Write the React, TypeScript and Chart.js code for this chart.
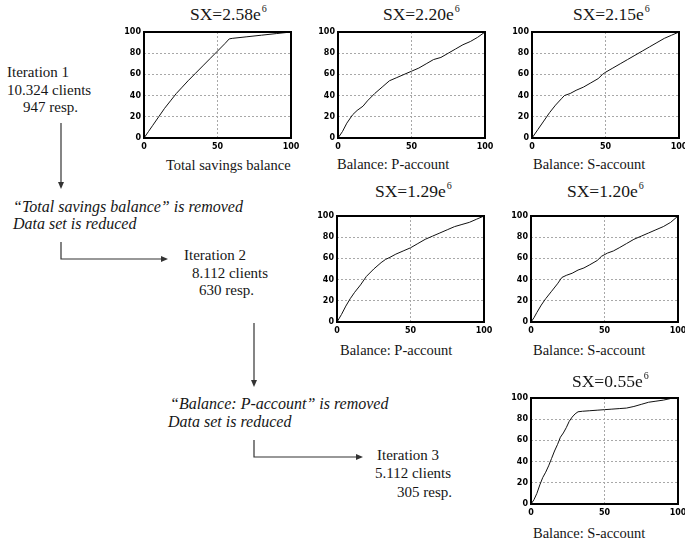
import React, { useEffect, useRef } from "react";
import { Chart, registerables } from "chart.js";

Chart.register(...registerables);

// ---- Data ----
const TOTAL_X = [0, 3, 6, 10, 14, 18, 22, 26, 30, 35, 40, 45, 50, 55, 58, 60, 70, 80, 90, 100];
const TOTAL_Y = [0, 6, 12, 20, 28, 35, 42, 48, 54, 61, 68, 75, 82, 89, 93.5, 94, 95.5, 97, 98.5, 100];

const P1_X = [0, 3, 6, 10, 13, 17, 20, 25, 30, 35, 40, 45, 50, 55, 60, 65, 70, 75, 80, 85, 90, 95, 100];
const P1_Y = [0, 6, 14, 22, 26, 30, 35, 42, 48, 54, 57, 60, 63, 66, 70, 74, 76, 80, 84, 88, 91, 95, 100];

const S1_X = [0, 4, 8, 12, 16, 20, 22, 26, 30, 35, 40, 45, 48, 50, 55, 60, 65, 70, 75, 80, 85, 90, 95, 100];
const S1_Y = [0, 8, 16, 24, 31, 37, 40, 42, 45, 48, 52, 56, 60, 62, 66, 70, 74, 78, 82, 86, 90, 94, 97, 100];

const P2_X = [0, 3, 6, 9, 12, 16, 20, 25, 30, 33, 36, 40, 45, 50, 55, 60, 65, 70, 75, 80, 85, 90, 95, 100];
const P2_Y = [0, 7, 15, 22, 28, 35, 43, 50, 56, 59, 61, 64, 67, 70, 74, 78, 81, 84, 87, 90, 92, 94, 97, 100];

const S2_X = [0, 2, 4, 7, 10, 14, 18, 21, 24, 28, 32, 36, 40, 45, 48, 52, 56, 60, 65, 70, 75, 80, 85, 90, 95, 100];
const S2_Y = [0, 4, 9, 16, 22, 29, 36, 42, 44, 46, 49, 51, 54, 58, 62, 65, 67, 70, 74, 78, 81, 84, 87, 90, 94, 100];

const S3_X = [0, 2, 4, 6, 8, 10, 12, 14, 16, 18, 20, 22, 24, 26, 28, 30, 32, 35, 40, 45, 50, 55, 60, 65, 70, 75, 80, 85, 90, 95, 100];
const S3_Y = [0, 4, 10, 18, 25, 30, 36, 43, 50, 56, 63, 67, 72, 78, 82, 85, 87, 87.5, 88, 88.5, 89, 89.5, 90, 90.5, 92, 94, 96, 97, 98, 99.5, 99.5];

const X_TICK_STEP = 50;
const Y_TICK_STEP = 20;

const TITLES = ["2.58", "2.20", "2.15", "1.29", "1.20", "0.55"];
const AXIS_LABELS = [
  "Total savings balance",
  "Balance: P-account",
  "Balance: S-account",
  "Balance: P-account",
  "Balance: S-account",
  "Balance: S-account",
];

// ---- Layout ----
const PW = 147;
const PH = 106;
const YAX = 30;
const PAD_TOP = 8;
const PAD_RIGHT = 14;
const XAX = 16;

type Panel = {
  left: number;
  top: number;
  xs: number[];
  ys: number[];
  title: string;
  titleLeft: number;
  titleCy: number;
  label: string;
  labelLeft: number;
  labelCy: number;
};

const PANELS: Panel[] = [
  { left: 144, top: 32, xs: TOTAL_X, ys: TOTAL_Y, title: TITLES[0], titleLeft: 190, titleCy: 15, label: AXIS_LABELS[0], labelLeft: 166, labelCy: 165 },
  { left: 338, top: 32, xs: P1_X, ys: P1_Y, title: TITLES[1], titleLeft: 383, titleCy: 15, label: AXIS_LABELS[1], labelLeft: 337, labelCy: 164 },
  { left: 532, top: 32, xs: S1_X, ys: S1_Y, title: TITLES[2], titleLeft: 573, titleCy: 15, label: AXIS_LABELS[2], labelLeft: 533, labelCy: 164 },
  { left: 337, top: 216, xs: P2_X, ys: P2_Y, title: TITLES[3], titleLeft: 375, titleCy: 192, label: AXIS_LABELS[3], labelLeft: 340, labelCy: 350 },
  { left: 531, top: 216, xs: S2_X, ys: S2_Y, title: TITLES[4], titleLeft: 567, titleCy: 192, label: AXIS_LABELS[4], labelLeft: 533, labelCy: 350 },
  { left: 531, top: 398, xs: S3_X, ys: S3_Y, title: TITLES[5], titleLeft: 572, titleCy: 382, label: AXIS_LABELS[5], labelLeft: 533, labelCy: 533 },
];

const boxPlugin = {
  id: "boxFrame",
  afterDraw(chart: any) {
    const { ctx, chartArea } = chart;
    ctx.save();
    ctx.strokeStyle = "#000";
    ctx.lineWidth = 2;
    ctx.strokeRect(chartArea.left, chartArea.top, chartArea.right - chartArea.left, chartArea.bottom - chartArea.top);
    ctx.restore();
  },
};

function MiniChart({ p }: { p: Panel }) {
  const ref = useRef<HTMLCanvasElement | null>(null);
  useEffect(() => {
    if (!ref.current) return;
    const data = p.xs.map((x, i) => ({ x, y: p.ys[i] }));
    const tickFont = { family: "'DejaVu Sans', 'Liberation Sans', sans-serif", size: 8, weight: "bold" as const };
    const chart = new Chart(ref.current, {
      type: "line",
      data: {
        datasets: [
          {
            data,
            borderColor: "#111",
            borderWidth: 1,
            pointRadius: 0,
            tension: 0,
            fill: false,
          },
        ],
      },
      plugins: [boxPlugin],
      options: {
        responsive: false,
        maintainAspectRatio: false,
        animation: false,
        layout: { padding: { top: PAD_TOP, right: PAD_RIGHT, left: 0, bottom: 0 } },
        plugins: { legend: { display: false }, tooltip: { enabled: false }, title: { display: false } },
        scales: {
          x: {
            type: "linear",
            min: 0,
            max: 100,
            ticks: { stepSize: X_TICK_STEP, autoSkip: false, maxRotation: 0, color: "#000", font: tickFont, padding: 4 },
            grid: { color: "#a8a8a8", lineWidth: 1, drawTicks: false },
            border: { display: false, dash: [2, 2] },
            afterFit: (s: any) => {
              s.height = XAX;
            },
          },
          y: {
            type: "linear",
            min: 0,
            max: 100,
            ticks: { stepSize: Y_TICK_STEP, color: "#000", font: tickFont, padding: 3 },
            grid: { color: "#a8a8a8", lineWidth: 1, drawTicks: false },
            border: { display: false, dash: [2, 2] },
            afterFit: (s: any) => {
              s.width = YAX;
            },
          },
        },
      },
    });
    return () => chart.destroy();
  }, [p]);
  const w = YAX + PW + PAD_RIGHT;
  const h = PAD_TOP + PH + XAX;
  return (
    <canvas
      ref={ref}
      width={w}
      height={h}
      style={{ position: "absolute", left: p.left - YAX, top: p.top - PAD_TOP, width: w, height: h }}
    />
  );
}

const SERIF = "'Liberation Serif', 'Times New Roman', serif";

function Txt({ x, cy, size, italic, children }: { x: number; cy: number; size: number; italic?: boolean; children: React.ReactNode }) {
  return (
    <div
      style={{
        position: "absolute",
        left: x,
        top: cy - size * 0.5,
        fontFamily: SERIF,
        fontSize: size,
        lineHeight: `${size}px`,
        fontStyle: italic ? "italic" : "normal",
        whiteSpace: "nowrap",
        color: "#161616",
      }}
    >
      {children}
    </div>
  );
}

const DIAGRAM_TEXT: { x: number; cy: number; t: string; italic?: boolean }[] = [
  { x: 7, cy: 72, t: "Iteration 1" },
  { x: 7, cy: 90, t: "10.324 clients" },
  { x: 23, cy: 107, t: "947 resp." },
  { x: 13, cy: 207, t: "\u201cTotal savings balance\u201d is removed", italic: true },
  { x: 13, cy: 224, t: "Data set is reduced", italic: true },
  { x: 184, cy: 255, t: "Iteration 2" },
  { x: 192, cy: 273, t: "8.112 clients" },
  { x: 199, cy: 290, t: "630 resp." },
  { x: 170, cy: 404, t: "\u201cBalance: P-account\u201d is removed", italic: true },
  { x: 168, cy: 422, t: "Data set is reduced", italic: true },
  { x: 377, cy: 455, t: "Iteration 3" },
  { x: 375, cy: 473, t: "5.112 clients" },
  { x: 397, cy: 492, t: "305 resp." },
];

function Arrows() {
  const stroke = "#333";
  return (
    <svg width={685} height={544} style={{ position: "absolute", left: 0, top: 0 }}>
      <line x1={61} y1={123} x2={61} y2={183} stroke={stroke} strokeWidth={1.2} />
      <polygon points="58,182 64,182 61,189" fill={stroke} />
      <polyline points="61,242 61,259 162,259" fill="none" stroke={stroke} strokeWidth={1.2} />
      <polygon points="161,256 161,262 168,259" fill={stroke} />
      <line x1={254} y1={323} x2={254} y2={381} stroke={stroke} strokeWidth={1.2} />
      <polygon points="251,380 257,380 254,387" fill={stroke} />
      <polyline points="254,440 254,457 357,457" fill="none" stroke={stroke} strokeWidth={1.2} />
      <polygon points="356,454 356,460 363,457" fill={stroke} />
    </svg>
  );
}

export default function App() {
  return (
    <div
      style={{
        position: "fixed",
        left: 0,
        top: 0,
        width: 685,
        height: 544,
        overflow: "hidden",
        background: "#fff",
      }}
    >
      {PANELS.map((p, i) => (
        <MiniChart key={i} p={p} />
      ))}
      {PANELS.map((p, i) => (
        <React.Fragment key={"t" + i}>
          <Txt x={p.titleLeft} cy={p.titleCy} size={17.5}>
            SX={p.title}e<sup style={{ fontSize: 10, verticalAlign: "8px", lineHeight: 0, marginLeft: 1 }}>6</sup>
          </Txt>
          <Txt x={p.labelLeft} cy={p.labelCy} size={14.5}>
            {p.label}
          </Txt>
        </React.Fragment>
      ))}
      {DIAGRAM_TEXT.map((d, i) => (
        <Txt key={"d" + i} x={d.x} cy={d.cy} size={d.italic ? 16 : 15} italic={d.italic}>
          {d.t}
        </Txt>
      ))}
      <Arrows />
    </div>
  );
}
